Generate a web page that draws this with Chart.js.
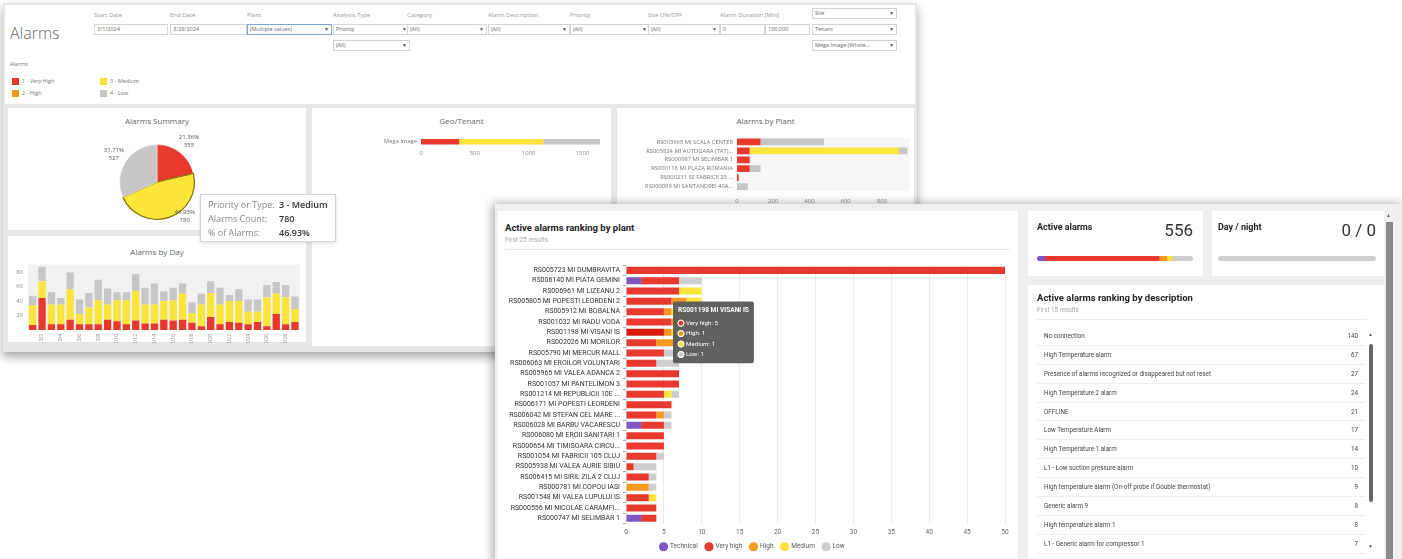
<!DOCTYPE html>
<html>
<head>
<meta charset="utf-8">
<script src="https://cdn.jsdelivr.net/npm/chart.js@4.4.1/dist/chart.umd.min.js"></script>
<style>
html, body { margin: 0; padding: 0; }
body { width: 1402px; height: 559px; overflow: hidden; position: relative; background: #fff; font-family: Roboto, sans-serif; }
.a { position: absolute; }
.back { font-family: "Open Sans", sans-serif; color: #666; }
.flabel { position: absolute; font-size: 6px; color: #999; white-space: nowrap; }
.finput { position: absolute; height: 9px; border: 1px solid #d4d4d4; background: #fff; font-size: 5.5px; line-height: 9px; color: #666; padding-left: 2px; box-sizing: content-box; white-space: nowrap; overflow: hidden; }
.finput .dd { position: absolute; right: 2px; top: 0; font-size: 5px; color: #555; }
.ptitle { position: absolute; font-size: 8px; color: #666; text-align: center; }
.lg { position: absolute; font-size: 5.5px; color: #777; white-space: nowrap; }
.lg i { display: inline-block; width: 7px; height: 7px; vertical-align: -2px; margin-right: 3px; }
.chartbox { position: absolute; }
.desc-row { display: flex; justify-content: space-between; align-items: center; height: 18.9px; border-bottom: 1px solid #eeeeee; box-sizing: border-box; padding: 0 7px; font-size: 6.3px; color: #444; white-space: nowrap; }
</style>
</head>
<body>

<!-- back dashboard -->
<div class="a back" style="left:3px;top:3px;width:914px;height:349px;background:#e6e6e6;box-shadow:0 5px 9px rgba(0,0,0,.35);"></div>
<div class="a back" style="left:5px;top:5px;width:910px;height:99px;background:#fff;"></div>
<div class="a back" style="left:8px;top:108px;width:298px;height:122px;background:#fff;"></div>
<div class="a back" style="left:312px;top:108px;width:299px;height:238px;background:#fff;"></div>
<div class="a back" style="left:617px;top:108px;width:297px;height:103px;background:#fff;"></div>
<div class="a back" style="left:8px;top:236px;width:298px;height:106px;background:#fff;"></div>

<div class="a back" style="left:10px;top:22px;font-size:16px;color:#6a6a6a;font-weight:300;">Alarms</div>

<div id="filters" class="back"></div>

<div class="lg back" style="left:10px;top:60px;">Alarms</div>
<div class="lg back" style="left:12px;top:77px;"><i style="background:#e8392f"></i>1 - Very High</div>
<div class="lg back" style="left:12px;top:89px;"><i style="background:#f39c1f"></i>2 - High</div>
<div class="lg back" style="left:100px;top:77px;"><i style="background:#f9e53a"></i>3 - Medium</div>
<div class="lg back" style="left:100px;top:89px;"><i style="background:#c4c4c4"></i>4 - Low</div>

<div class="ptitle back" style="left:8px;top:115px;width:298px;">Alarms Summary</div>
<div class="ptitle back" style="left:312px;top:115px;width:299px;">Geo/Tenant</div>
<div class="ptitle back" style="left:617px;top:115px;width:297px;">Alarms by Plant</div>
<div class="ptitle back" style="left:8px;top:246px;width:298px;">Alarms by Day</div>

<div class="chartbox" style="left:100px;top:130px;width:114px;height:104px;"><canvas id="pieChart"></canvas></div>
<div class="chartbox" style="left:340px;top:130px;width:270px;height:32px;"><canvas id="geoChart"></canvas></div>
<div class="chartbox" style="left:616px;top:130px;width:297px;height:74px;"><canvas id="sitesChart"></canvas></div>
<div class="chartbox" style="left:10px;top:256px;width:295px;height:87px;"><canvas id="dayChart"></canvas></div>

<div class="a back" style="left:200px;top:194px;width:136px;height:48px;background:#fff;border:1px solid #d6d6d6;box-shadow:0 1px 3px rgba(0,0,0,.15);font-size:9px;line-height:14px;padding-top:3px;box-sizing:border-box;">
  <div style="position:absolute;left:7px;top:3px;color:#888;">Priority or Type:<br>Alarms Count:<br>% of Alarms:</div>
  <div style="position:absolute;left:78px;top:3px;color:#333;font-weight:600;" id="pieTipVals"></div>
</div>

<!-- front dashboard -->
<div class="a" style="left:495px;top:204px;width:910px;height:360px;background:#efefef;box-shadow:-3px -1px 9px rgba(0,0,0,.3);"></div>
<div class="a" style="left:498px;top:211px;width:520px;height:350px;background:#fff;"></div>
<div class="a" style="left:1028px;top:211px;width:175px;height:65px;background:#fff;"></div>
<div class="a" style="left:1212px;top:211px;width:172px;height:65px;background:#fff;"></div>
<div class="a" style="left:1028px;top:285px;width:356px;height:276px;background:#fff;"></div>

<div class="a" style="left:505px;top:222px;font-size:9.5px;font-weight:700;color:#222;">Active alarms ranking by plant</div>
<div class="a" style="left:505px;top:236px;font-size:6.5px;color:#aaa;">First 25 results</div>
<div class="a" style="left:505px;top:249px;width:505px;height:1px;background:#e8e8e8;"></div>

<div class="chartbox" style="left:500px;top:258px;width:515px;height:302px;"><canvas id="plantChart"></canvas></div>

<div class="a" style="left:1037px;top:222px;font-size:9px;font-weight:700;color:#222;">Active alarms</div>
<div class="a" style="left:1120px;top:220px;width:73px;text-align:right;font-size:17px;color:#333;">556</div>
<div class="chartbox" style="left:1037px;top:256px;width:156px;height:5px;border-radius:3px;overflow:hidden;"><canvas id="activeChart"></canvas></div>

<div class="a" style="left:1218px;top:222px;font-size:9px;font-weight:700;color:#222;">Day / night</div>
<div class="a" style="left:1300px;top:220px;width:76px;text-align:right;font-size:17px;color:#333;">0 / 0</div>
<div class="a" style="left:1218px;top:256px;width:158px;height:5px;border-radius:3px;background:#cfcfcf;"></div>

<div class="a" style="left:1037px;top:292px;font-size:9.5px;font-weight:700;color:#222;">Active alarms ranking by description</div>
<div class="a" style="left:1037px;top:306px;font-size:6.3px;color:#aaa;">First 15 results</div>
<div class="a" style="left:1037px;top:319px;width:330px;height:1px;background:#ececec;"></div>
<div id="descList" class="a" style="left:1037px;top:327px;width:328px;"></div>

<div class="a" style="left:1368px;top:331px;font-size:5px;color:#555;">&#9650;</div>
<div class="a" style="left:1369px;top:344px;width:4px;height:158px;background:#666;border-radius:2px;"></div>
<div class="a" style="left:1368px;top:543px;font-size:5px;color:#555;">&#9660;</div>
<div class="a" style="left:1386px;top:212px;font-size:5px;color:#666;">&#9650;</div>
<div class="a" style="left:1386px;top:222px;width:7px;height:337px;background:#8a8a8a;"></div>

<script>
// ---- front: active alarms ranking by plant ----
const plantNames = [
  'RS005723 MI DUMBRAVITA', 'RS006140 MI PIATA GEMINI', 'RS006961 MI LIZEANU 2',
  'RS005805 MI POPESTI LEORDENI 2', 'RS005912 MI BOBALNA', 'RS001032 MI RADU VODA',
  'RS001198 MI VISANI IS', 'RS002026 MI MORILOR', 'RS005790 MI MERCUR MALL',
  'RS006063 MI EROILOR VOLUNTARI', 'RS005965 MI VALEA ADANCA 2', 'RS001057 MI PANTELIMON 3',
  'RS001214 MI REPUBLICII 10E ...', 'RS006171 MI POPESTI LEORDENI', 'RS006042 MI STEFAN CEL MARE ...',
  'RS006028 MI BARBU VACARESCU', 'RS006080 MI EROII SANITARI 1', 'RS000654 MI TIMISOARA CIRCU...',
  'RS001054 MI FABRICII 105 CLUJ', 'RS005938 MI VALEA AURIE SIBIU', 'RS006415 MI SIRIL ZILA 2 CLUJ',
  'RS000781 MI COPOU IASI', 'RS001548 MI VALEA LUPULUI IS', 'RS000556 MI NICOLAE CARAMFI...',
  'RS000747 MI SELIMBAR 1'
];
const technical = [0, 2, 0, 0, 0, 0, 0, 0, 0, 0, 0, 0, 0, 0, 0, 2, 0, 0, 0, 0, 0, 0, 0, 0, 2];
const veryHigh  = [50, 5, 7, 6, 5, 6, 5, 4, 5, 4, 7, 7, 5, 6, 4, 3, 5, 5, 4, 1, 3, 0, 3, 4, 2];
const high      = [0, 0, 0, 2, 1, 1, 1, 3, 0, 0, 0, 0, 0, 0, 1, 0, 0, 0, 0, 0, 0, 3, 0, 0, 0];
const medium    = [0, 0, 3, 2, 2, 1, 1, 0, 0, 0, 0, 0, 1, 0, 0, 0, 0, 0, 0, 0, 0, 0, 1, 0, 0];
const low       = [0, 3, 0, 0, 1, 0, 1, 1, 2, 3, 0, 0, 1, 0, 1, 1, 0, 0, 1, 3, 1, 1, 0, 0, 0];
const plantTicks = [0, 5, 10, 15, 20, 25, 30, 35, 40, 45, 50];
const hoveredRow = 6;

// ---- front: totals and descriptions ----
const activeLabels = ['Technical', 'Very high', 'High', 'Medium', 'Low'];
const activeCounts = [28, 407, 28, 18, 75];
const descNames = [
  'No connection', 'High Temperature alarm', 'Presence of alarms recognized or disappeared but not reset',
  'High Temperature 2 alarm', 'OFFLINE', 'Low Temperature Alarm', 'High Temperature 1 alarm',
  'L1 - Low suction pressure alarm', 'High temperature alarm (On-off probe if Double thermostat)',
  'Generic alarm 9', 'High temperature alarm 1', 'L1 - Generic alarm for compressor 1'
];
const descCounts = [140, 67, 27, 24, 21, 17, 14, 10, 9, 8, 8, 7];

// ---- back: summary, tenant, plants, days ----
const summaryLabels = ['1 - Very High', '3 - Medium', '4 - Low'];
const summaryCounts = [355, 780, 527];
const tenantNames = ['Mega Image'];
const tenantTicks = [0, 500, 1000, 1500];
const sitesNames = [
  'RS003965 MI SCALA CENTER', 'RS005824 MI AUTOGARA (TAT)...', 'RS000987 MI SELIMBAR 1',
  'RS000118 MI PLAZA ROMANIA', 'RS000231 SS FABRICII 23 ...', 'RS000089 MI SANTANDREI 40A...'
];
const sitesTicks = [0, 200, 400, 600, 800];
const sitesVeryHigh = [130, 70, 70, 70, 10, 0];
const sitesMedium   = [0, 825, 0, 0, 0, 0];
const sitesLow      = [350, 45, 0, 60, 0, 60];
const dayLabels = ['3/1','3/2','3/3','3/4','3/5','3/6','3/7','3/8','3/9','3/10','3/11','3/12','3/13','3/14','3/15',
  '3/16','3/17','3/18','3/19','3/20','3/21','3/22','3/23','3/24','3/25','3/26','3/27','3/28','3/29'];
const dayTicks = [20, 40, 60, 80];
const dayVeryHigh = [7, 44, 8, 8, 14, 8, 8, 8, 14, 12, 8, 13, 9, 9, 14, 13, 14, 10, 5, 18, 8, 11, 10, 8, 11, 5, 22, 8, 11];
const dayMedium   = [27, 23, 27, 27, 42, 14, 23, 33, 21, 29, 33, 41, 26, 26, 26, 28, 36, 13, 30, 33, 27, 29, 30, 17, 14, 40, 28, 37, 18];
const dayLow      = [13, 20, 17, 9, 23, 20, 20, 28, 22, 11, 11, 23, 23, 29, 13, 17, 14, 15, 15, 16, 23, 8, 16, 17, 17, 17, 16, 17, 17];

const filterLabels = ['Start Date', 'End Date', 'Plant', 'Analysis Type', 'Category', 'Alarm Description', 'Priority', 'Site ON/OFF', 'Alarm Duration [Min]'];
const filterValues = ['3/1/2024', '3/29/2024', '(Multiple values)', 'Priority', '(All)', '(All)', '(All)', '(All)', '0'];

const RED = '#e8392f', PURPLE = '#7e57c2', ORANGE = '#f5991f', YELLOW = '#fbe53b', GREY = '#cdcdcd';

Chart.defaults.font.family = 'Roboto';
Chart.defaults.animation = false;

// filters (plain markup)
(function () {
  const xs = [94, 170, 247, 333, 407, 488, 570, 648, 720];
  const ws = [70, 73, 81, 73, 76, 78, 76, 68, 41];
  const host = document.getElementById('filters');
  let html = '';
  filterLabels.forEach((t, i) => {
    html += `<div class="flabel" style="left:${xs[i]}px;top:11px;">${t}</div>`;
    const dd = (i >= 2 && i <= 7) ? '<span class="dd">&#9660;</span>' : '';
    const blue = i === 2 ? 'border-color:#7aa7d6;' : '';
    html += `<div class="finput" style="left:${xs[i]}px;top:24px;width:${ws[i]}px;${blue}">${filterValues[i]}${dd}</div>`;
  });
  html += `<div class="finput" style="left:765px;top:24px;width:41px;">100,000</div>`;
  html += `<div class="finput" style="left:333px;top:40px;width:73px;">(All)<span class="dd">&#9660;</span></div>`;
  ['Site', 'Tenant', 'Mega Image (Whole...'].forEach((t, i) => {
    html += `<div class="finput" style="left:812px;top:${8 + i * 16}px;width:81px;">${t}<span class="dd">&#9660;</span></div>`;
  });
  host.innerHTML = html;
})();

// description ranking list
document.getElementById('descList').innerHTML = descNames.map((n, i) =>
  `<div class="desc-row"><span>${n}</span><span>${descCounts[i]}</span></div>`).join('');

const total = summaryCounts.reduce((a, b) => a + b, 0);
document.getElementById('pieTipVals').innerHTML =
  `3 - Medium<br>${summaryCounts[1]}<br>${(summaryCounts[1] / total * 100).toFixed(2)}%`;

const areaBg = {
  id: 'areaBg',
  beforeDraw(chart, args, opts) {
    if (!opts || !opts.color) return;
    const { ctx, chartArea: a } = chart;
    ctx.save();
    ctx.fillStyle = opts.color;
    ctx.fillRect(a.left, a.top, a.right - a.left, a.bottom - a.top);
    ctx.restore();
  }
};

// percent + count next to each slice
const pieLabels = {
  id: 'pieLabels',
  afterDatasetsDraw(chart, args, opts) {
    const meta = chart.getDatasetMeta(0);
    const data = chart.data.datasets[0].data;
    const sum = data.reduce((a, b) => a + b, 0);
    const gaps = opts.gaps || [];
    const ctx = chart.ctx;
    ctx.save();
    ctx.font = '6px "Open Sans"';
    ctx.fillStyle = '#555';
    ctx.textAlign = 'center';
    ctx.textBaseline = 'middle';
    meta.data.forEach((arc, i) => {
      const mid = (arc.startAngle + arc.endAngle) / 2 + (i === 1 ? -0.35 : 0);
      const r = arc.outerRadius + (gaps[i] || 14);
      const x = arc.x + Math.cos(mid) * r;
      const y = arc.y + Math.sin(mid) * r;
      ctx.fillText((data[i] / sum * 100).toFixed(2) + '%', x, y - 4);
      ctx.fillText(String(data[i]), x, y + 4);
    });
    ctx.restore();
  }
};

const backTick = { font: { size: 6, family: 'Open Sans' }, color: '#8c8c8c', callback: v => String(v) };
const noGrid = { display: false, drawTicks: false };

// ---------- back charts ----------
new Chart(document.getElementById('pieChart'), {
  type: 'pie',
  data: {
    labels: summaryLabels,
    datasets: [{
      data: summaryCounts,
      backgroundColor: [RED, YELLOW, '#c6c6c6'],
      borderColor: ['#fff', '#7d6c00', '#fff'],
      borderWidth: [0.5, 1.2, 0.5]
    }]
  },
  options: {
    responsive: true, maintainAspectRatio: false, events: [],
    layout: { padding: 14 },
    plugins: { legend: { display: false }, tooltip: { enabled: false }, pieLabels: { gaps: [14, 7, 14] } }
  },
  plugins: [pieLabels]
});

new Chart(document.getElementById('geoChart'), {
  type: 'bar',
  data: {
    labels: tenantNames,
    datasets: [
      { label: '1 - Very High', data: [summaryCounts[0]], backgroundColor: RED },
      { label: '3 - Medium', data: [summaryCounts[1]], backgroundColor: YELLOW },
      { label: '4 - Low', data: [summaryCounts[2]], backgroundColor: '#c6c6c6' }
    ]
  },
  options: {
    indexAxis: 'y', responsive: true, maintainAspectRatio: false, events: [],
    layout: { padding: { top: 3, right: 6 } },
    datasets: { bar: { barPercentage: 0.65, categoryPercentage: 1 } },
    scales: {
      x: {
        stacked: true, min: 0, max: 1700,
        afterBuildTicks: s => { s.ticks = tenantTicks.map(v => ({ value: v })); },
        ticks: { ...backTick, padding: 4 },
        grid: noGrid, border: { display: false },
        afterFit: s => { s.height = 16; }
      },
      y: {
        stacked: true,
        ticks: { font: { size: 5.8, family: 'Open Sans' }, color: '#777', padding: 4 },
        grid: noGrid, border: { display: false },
        afterFit: s => { s.width = 81; }
      }
    },
    plugins: { legend: { display: false }, tooltip: { enabled: false } }
  }
});

new Chart(document.getElementById('sitesChart'), {
  type: 'bar',
  data: {
    labels: sitesNames,
    datasets: [
      { label: '1 - Very High', data: sitesVeryHigh, backgroundColor: RED },
      { label: '3 - Medium', data: sitesMedium, backgroundColor: YELLOW },
      { label: '4 - Low', data: sitesLow, backgroundColor: '#c6c6c6' }
    ]
  },
  options: {
    indexAxis: 'y', responsive: true, maintainAspectRatio: false, events: [],
    layout: { padding: { top: 3, right: 4 } },
    datasets: { bar: { barPercentage: 0.75, categoryPercentage: 1 } },
    scales: {
      x: {
        stacked: true, min: 0, max: 950,
        afterBuildTicks: s => { s.ticks = sitesTicks.map(v => ({ value: v })); },
        ticks: { ...backTick, padding: 7 },
        grid: noGrid, border: { display: false },
        afterFit: s => { s.height = 13; }
      },
      y: {
        stacked: true,
        ticks: { font: { size: 5.8, family: 'Open Sans' }, color: '#777', padding: 4, autoSkip: false },
        grid: noGrid, border: { display: false },
        afterFit: s => { s.width = 121; }
      }
    },
    plugins: { legend: { display: false }, tooltip: { enabled: false }, areaBg: { color: '#f6f6f6' } }
  },
  plugins: [areaBg]
});

new Chart(document.getElementById('dayChart'), {
  type: 'bar',
  data: {
    labels: dayLabels,
    datasets: [
      { label: '1 - Very High', data: dayVeryHigh, backgroundColor: RED },
      { label: '3 - Medium', data: dayMedium, backgroundColor: YELLOW },
      { label: '4 - Low', data: dayLow, backgroundColor: '#c6c6c6' }
    ]
  },
  options: {
    responsive: true, maintainAspectRatio: false, events: [],
    layout: { padding: { top: 2, right: 1 } },
    datasets: { bar: { barPercentage: 0.78, categoryPercentage: 1 } },
    scales: {
      x: {
        stacked: true,
        ticks: {
          autoSkip: false, minRotation: 90, maxRotation: 90, padding: 4,
          font: { size: 5, family: 'Open Sans' }, color: '#888',
          callback: (v, i) => (i % 2 === 1 ? dayLabels[i] : '')
        },
        grid: noGrid, border: { display: false },
        afterFit: s => { s.height = 13; }
      },
      y: {
        stacked: true, min: 0, max: 90,
        afterBuildTicks: s => { s.ticks = dayTicks.map(v => ({ value: v })); },
        ticks: { ...backTick, padding: 5 },
        grid: noGrid, border: { display: false },
        afterFit: s => { s.width = 18; }
      }
    },
    plugins: { legend: { display: false }, tooltip: { enabled: false }, areaBg: { color: '#f1f1f1' } }
  },
  plugins: [areaBg]
});

// ---------- front charts ----------
Chart.Tooltip.positioners.beside = function (elements) {
  if (!elements.length) return false;
  const xs = this.chart.scales.x;
  return { x: xs.getPixelForValue(6.2), y: elements[0].element.y };
};

const plantChart = new Chart(document.getElementById('plantChart'), {
  type: 'bar',
  data: {
    labels: plantNames,
    datasets: [
      { label: 'Technical', data: technical, backgroundColor: PURPLE, hoverBackgroundColor: PURPLE },
      { label: 'Very high', data: veryHigh, backgroundColor: RED, hoverBackgroundColor: '#d6170d' },
      { label: 'High', data: high, backgroundColor: ORANGE, hoverBackgroundColor: ORANGE },
      { label: 'Medium', data: medium, backgroundColor: YELLOW, hoverBackgroundColor: YELLOW },
      { label: 'Low', data: low, backgroundColor: GREY, hoverBackgroundColor: GREY }
    ]
  },
  options: {
    indexAxis: 'y', responsive: true, maintainAspectRatio: false, events: [],
    layout: { padding: { top: 4, right: 10 } },
    datasets: { bar: { barPercentage: 0.68, categoryPercentage: 1 } },
    scales: {
      x: {
        stacked: true, min: 0, max: 50,
        afterBuildTicks: s => { s.ticks = plantTicks.map(v => ({ value: v })); },
        ticks: { font: { size: 6.5 }, color: '#666', padding: 5 },
        grid: { color: '#ececec', drawTicks: false }, border: { display: false },
        afterFit: s => { s.height = 12; }
      },
      y: {
        stacked: true,
        ticks: { font: { size: 7 }, color: '#333', padding: 3, autoSkip: false },
        grid: { drawOnChartArea: false, tickLength: 3, color: '#aaa' }, border: { display: false },
        afterFit: s => { s.width = 126; }
      }
    },
    plugins: {
      legend: {
        position: 'bottom',
        labels: { usePointStyle: true, pointStyle: 'circle', boxWidth: 6.5, boxHeight: 6.5, padding: 8, font: { size: 6.5 }, color: '#555' }
      },
      tooltip: {
        animation: false, position: 'beside', xAlign: 'left', yAlign: 'center',
        caretSize: 0, caretPadding: 0, mode: 'index', intersect: false,
        filter: item => item.raw > 0,
        backgroundColor: 'rgba(88,88,88,0.95)', cornerRadius: 2, padding: 5,
        titleFont: { size: 6.6, weight: 'bold' }, bodyFont: { size: 6.2 },
        titleMarginBottom: 5, bodySpacing: 3,
        usePointStyle: true, boxWidth: 6, boxHeight: 6,
        callbacks: {
          label: c => `${c.dataset.label}: ${c.raw}`,
          labelColor: c => ({ borderColor: '#fff', backgroundColor: c.dataset.backgroundColor, borderWidth: 1 }),
          labelPointStyle: () => ({ pointStyle: 'circle', rotation: 0 })
        }
      }
    }
  }
});

const hoverEls = [1, 2, 3, 4].map(d => ({ datasetIndex: d, index: hoveredRow }));
plantChart.setActiveElements(hoverEls);
plantChart.tooltip.setActiveElements(hoverEls, { x: 0, y: 0 });
plantChart.update();

new Chart(document.getElementById('activeChart'), {
  type: 'bar',
  data: {
    labels: ['Active'],
    datasets: activeLabels.map((l, i) => ({
      label: l, data: [activeCounts[i]],
      backgroundColor: [PURPLE, RED, ORANGE, YELLOW, GREY][i]
    }))
  },
  options: {
    indexAxis: 'y', responsive: true, maintainAspectRatio: false, events: [],
    datasets: { bar: { barPercentage: 1, categoryPercentage: 1 } },
    scales: {
      x: { stacked: true, display: false, min: 0, max: activeCounts.reduce((a, b) => a + b, 0) },
      y: { stacked: true, display: false }
    },
    plugins: { legend: { display: false }, tooltip: { enabled: false } }
  }
});
</script>
</body>
</html>
